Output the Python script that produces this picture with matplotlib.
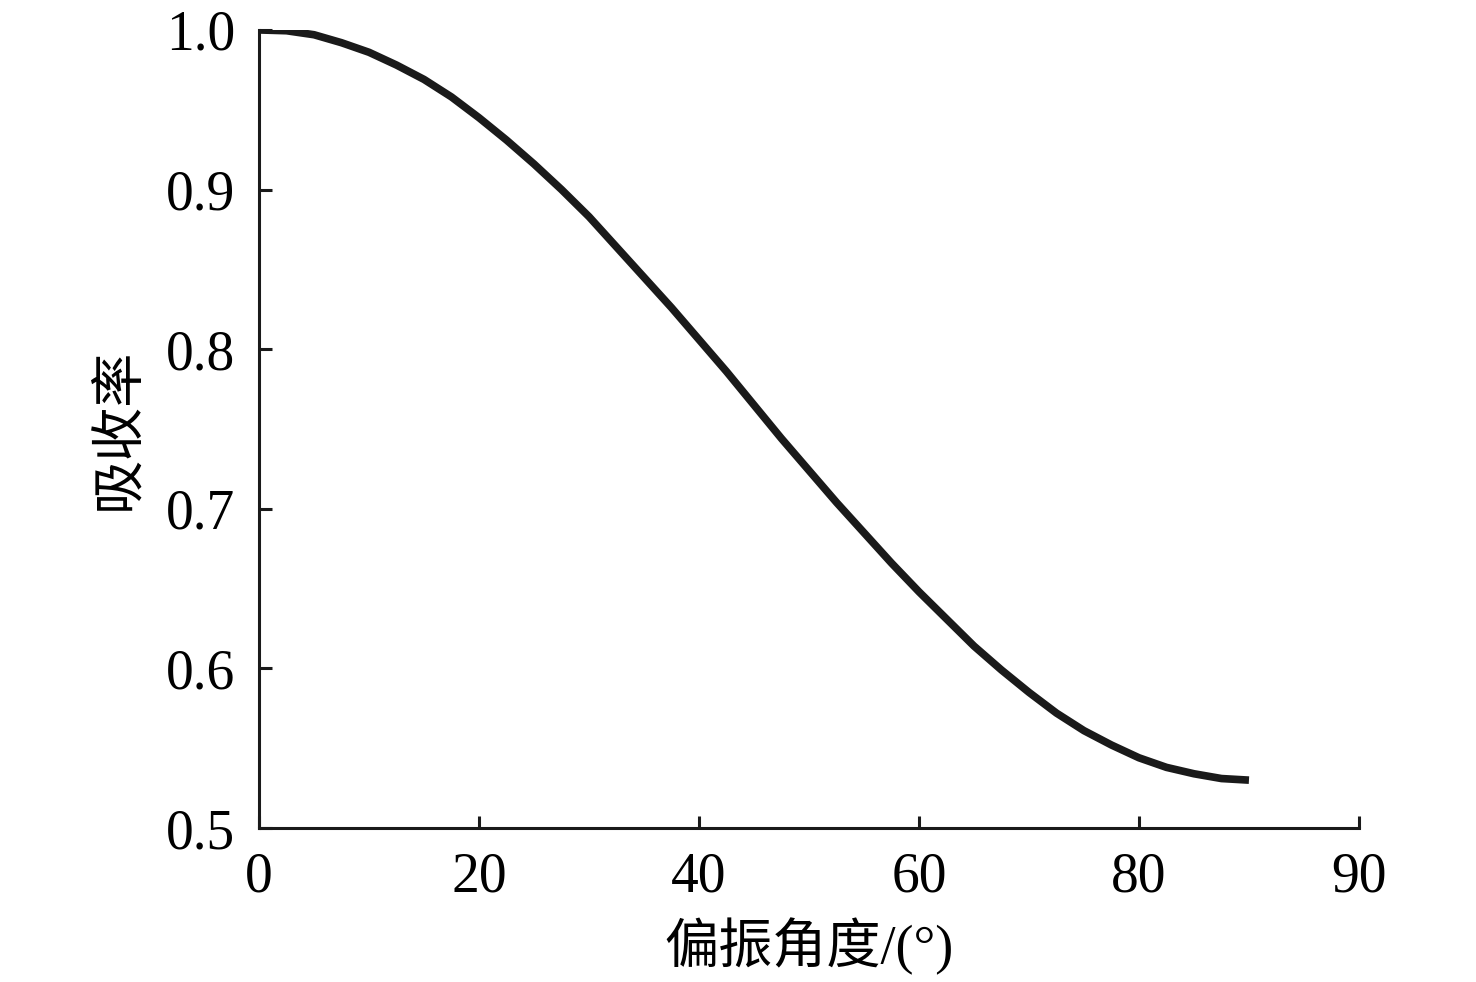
import matplotlib
matplotlib.use('Agg')
import matplotlib.pyplot as plt

# 偏振角度 (度) 与 吸收率
angle = [0, 2.5, 5, 7.5, 10, 12.5, 15, 17.5, 20, 22.5, 25, 27.5, 30, 32.5, 35, 37.5,
         40, 42.5, 45, 47.5, 50, 52.5, 55, 57.5, 60, 62.5, 65, 67.5, 70, 72.5, 75,
         77.5, 80, 82.5, 85, 87.5, 90]
absorb = [1.000, 0.9995, 0.997, 0.992, 0.986, 0.978, 0.969, 0.958, 0.945, 0.931,
          0.916, 0.900, 0.883, 0.864, 0.845, 0.826, 0.806, 0.786, 0.765, 0.744,
          0.724, 0.704, 0.685, 0.666, 0.648, 0.631, 0.614, 0.599, 0.585, 0.572,
          0.561, 0.552, 0.544, 0.538, 0.534, 0.531, 0.530]

xtick_pos = [0, 20, 40, 60, 80, 100]
xtick_labels = ['0', '20', '40', '60', '80', '90']
ytick_pos = [0.5, 0.6, 0.7, 0.8, 0.9, 1.0]

fonts = ['Liberation Serif', 'Noto Sans CJK SC']
plt.rcParams['font.family'] = fonts

fig = plt.figure(figsize=(14.76, 9.82), dpi=100)
ax = fig.add_axes([0.1755, 0.1568, 0.7452, 0.8127])

ax.plot(angle, absorb, color='#1a1a1a', linewidth=5.5,
        solid_capstyle='butt', solid_joinstyle='round')

ax.set_xlim(0, 100)
ax.set_ylim(0.5, 1.0)
ax.set_xticks(xtick_pos)
ax.set_xticklabels(xtick_labels)
ax.set_yticks(ytick_pos)
ax.set_yticklabels([f'{v:.1f}' for v in ytick_pos])

for s in ['top', 'right']:
    ax.spines[s].set_visible(False)
for s in ['left', 'bottom']:
    ax.spines[s].set_linewidth(2.2)
    ax.spines[s].set_color('#1a1a1a')

ax.tick_params(direction='in', length=9, width=2.2, color='#1a1a1a',
               labelsize=40, pad=17)

ax.set_xlabel('偏振角度/(°)', fontsize=39, labelpad=10)
ax.set_ylabel('吸收率', fontsize=39, labelpad=15)

fig.savefig('out.png', dpi=100)
